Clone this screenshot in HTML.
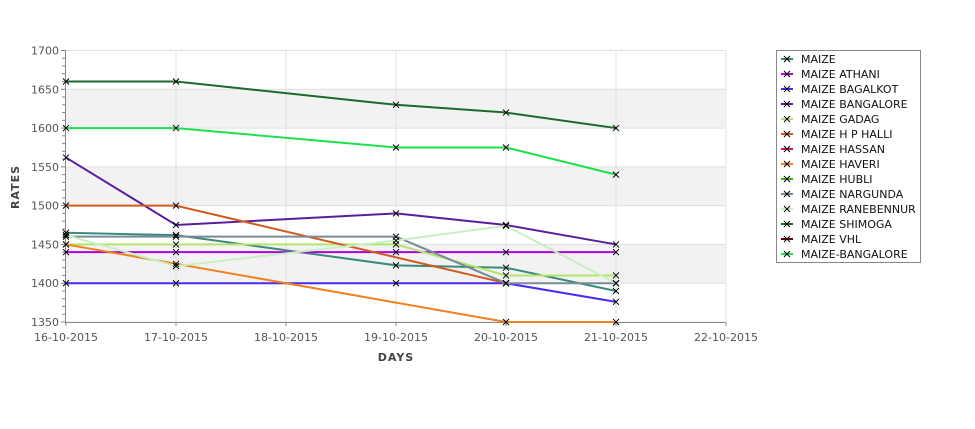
<!DOCTYPE html>
<html><head><meta charset="utf-8"><style>
html,body{margin:0;padding:0;background:#fff;width:975px;height:429px;overflow:hidden}
svg text{font-family:"DejaVu Sans","Liberation Sans",sans-serif}
</style></head><body>
<svg id="c" width="975" height="429" xmlns="http://www.w3.org/2000/svg"></svg>
<script>
const s=document.getElementById('c');let h='';
const X=d=>66+(d-16)*110, Y=v=>50.5+(1700-v)*0.7757;
// bands
[[1600,1650],[1500,1550],[1400,1450]].forEach(b=>{h+=`<rect x="66" y="${Y(b[1])}" width="659" height="${Y(b[0])-Y(b[1])}" fill="#f2f2f2"/>`;});
for(let v=1350;v<=1700;v+=50)h+=`<line x1="66" x2="725" y1="${Y(v)}" y2="${Y(v)}" stroke="#e0e0e0"/>`;
for(let d=17;d<=22;d++)h+=`<line x1="${X(d)}" x2="${X(d)}" y1="50" y2="322" stroke="#e0e0e0"/>`;
// axes
h+=`<line x1="65.5" x2="65.5" y1="50" y2="323" stroke="#888"/><line x1="65" x2="725" y1="322.5" y2="322.5" stroke="#888"/>`;
for(let v=1350;v<=1700;v+=10){const maj=v%50==0;h+=`<line x1="${maj?61:62}" x2="65" y1="${Y(v)}" y2="${Y(v)}" stroke="#888"/>`;if(maj)h+=`<text x="59" y="${Y(v)+4}" font-size="11" fill="#555" text-anchor="end">${v}</text>`;}
for(let d=16;d<=22;d++){h+=`<line x1="${X(d)}" x2="${X(d)}" y1="322" y2="326" stroke="#888"/><text x="${X(d)}" y="341" font-size="11" fill="#555" text-anchor="middle">${d}-10-2015</text>`;}
h+=`<text x="396" y="361" font-size="11" font-weight="bold" fill="#444" text-anchor="middle" letter-spacing="1">DAYS</text>`;
h+=`<text transform="translate(19,187) rotate(-90)" font-size="11" font-weight="bold" fill="#444" text-anchor="middle" letter-spacing="1">RATES</text>`;
const S=[
['#3a8a7a',[[16,1465],[17,1462],[19,1423],[20,1420],[21,1390]]],
['#b000e0',[[16,1440],[17,1440],[19,1440],[20,1440],[21,1440]]],
['#4a2af0',[[16,1400],[17,1400],[19,1400],[20,1400],[21,1376]]],
['#5a1e9a',[[16,1562],[17,1475],[19,1490],[20,1475],[21,1450]]],
['#b4e470',[[16,1450],[17,1450],[19,1450],[20,1410],[21,1410]]],
['#d05a20',[[16,1500],[17,1500],[20,1400]]],
['#f08020',[[16,1450],[17,1425],[20,1350],[21,1350]]],
['#7a8a9a',[[16,1460],[17,1460],[19,1460],[20,1400],[21,1400]]],
['#c8f0c0',[[16,1462],[17,1422],[19,1455],[20,1474],[21,1400]]],
['#1a6a2a',[[16,1660],[17,1660],[19,1630],[20,1620],[21,1600]]],
['#20e050',[[16,1600],[17,1600],[19,1575],[20,1575],[21,1540]]]];
S.forEach(([c,p])=>{h+=`<polyline fill="none" stroke="${c}" stroke-width="2" points="${p.map(q=>X(q[0])+','+Y(q[1])).join(' ')}"/>`;});
S.forEach(([c,p])=>p.forEach(q=>{const x=X(q[0]),y=Y(q[1]);h+=`<path d="M${x-3},${y-3}L${x+3},${y+3}M${x-3},${y+3}L${x+3},${y-3}" stroke="#000" stroke-width="1"/>`;}));
// legend
h+=`<rect x="776.5" y="50.5" width="144" height="212" fill="#fff" stroke="#888"/>`;
const L=[['MAIZE','#3a8a7a'],['MAIZE ATHANI','#b000e0'],['MAIZE BAGALKOT','#4a2af0'],['MAIZE BANGALORE','#5a1e9a'],['MAIZE GADAG','#b4e470'],['MAIZE H P HALLI','#d05a20'],['MAIZE HASSAN','#d0106a'],['MAIZE HAVERI','#f08020'],['MAIZE HUBLI','#40b010'],['MAIZE NARGUNDA','#7a8a9a'],['MAIZE RANEBENNUR','#c8f0c0'],['MAIZE SHIMOGA','#1a6a2a'],['MAIZE VHL','#600010'],['MAIZE-BANGALORE','#20e050']];
L.forEach(([t,c],i)=>{const y=59+i*15;h+=`<line x1="781" x2="793" y1="${y}" y2="${y}" stroke="${c}" stroke-width="2"/><path d="M784,${y-3}L790,${y+3}M784,${y+3}L790,${y-3}" stroke="#000"/><text x="801" y="${y+4}" font-size="11" fill="#111">${t}</text>`;});
s.innerHTML=h;
</script>
</body></html>
